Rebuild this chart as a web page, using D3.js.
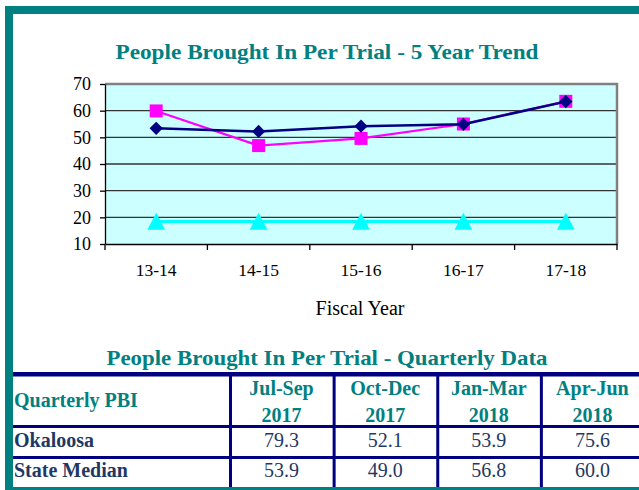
<!DOCTYPE html>
<html lang="en">
<head>
  <meta charset="UTF-8">
  <title>People Brought In Per Trial</title>
  <script src="https://d3js.org/d3.v7.min.js"></script>
  <style>
    body {
      margin: 0;
      background: #fff;
      font-family: "Liberation Serif", "Times New Roman", serif;
    }
    svg { display: block; }
  </style>
</head>
<body>
  <svg id="chart" width="639" height="490"></svg>

  <script>
    // trend chart data
    const years = ["13-14", "14-15", "15-16", "16-17", "17-18"];
    const okaloosaTrend = [53.4, 52.2, 54.2, 54.9, 63.4];
    const stateTrend = [59.9, 46.9, 49.6, 55.0, 63.5];
    const standardTrend = [18.4, 18.4, 18.4, 18.4, 18.4];
    const yTicks = [10, 20, 30, 40, 50, 60, 70];

    // quarterly table data
    const quarters = ["Jul-Sep", "Oct-Dec", "Jan-Mar", "Apr-Jun"];
    const quarterYears = ["2017", "2017", "2018", "2018"];
    const rowLabels = ["Okaloosa", "State Median"];
    const okaloosaQ = [79.3, 52.1, 53.9, 75.6];
    const stateQ = [53.9, 49.0, 56.8, 60.0];

    const teal = "#008080";
    const navy = "#000080";
    const ink = "#1F3864";
    const serif = "'Liberation Serif', 'Times New Roman', serif";

    const svg = d3.select("#chart");

    // teal frame
    svg.append("rect").attr("x", 5).attr("y", 6).attr("width", 634).attr("height", 8).attr("fill", teal);
    svg.append("rect").attr("x", 5).attr("y", 6).attr("width", 8).attr("height", 484).attr("fill", teal);
    svg.append("rect").attr("x", 5).attr("y", 487).attr("width", 634).attr("height", 3).attr("fill", teal);

    // chart title
    svg.append("text")
      .attr("x", 327).attr("y", 59)
      .attr("text-anchor", "middle")
      .attr("fill", teal)
      .style("font-size", "21px")
      .style("font-weight", "bold")
      .attr("textLength", 423)
      .attr("lengthAdjust", "spacingAndGlyphs")
      .text("People Brought In Per Trial - 5 Year Trend");

    const x = d3.scaleBand().domain(years).range([105, 617]);
    const y = d3.scaleLinear().domain([10, 70]).range([244, 84]);

    // plot background
    svg.append("rect")
      .attr("x", 105).attr("y", y(70))
      .attr("width", 512).attr("height", y(10) - y(70))
      .attr("fill", "#CCFFFF");

    // gridlines
    svg.append("g")
      .selectAll("line")
      .data(yTicks.filter(d => d > 10 && d < 70))
      .join("line")
      .attr("x1", 105).attr("x2", 617)
      .attr("y1", d => y(d)).attr("y2", d => y(d))
      .attr("stroke", "#333")
      .attr("stroke-width", 1.3);

    // grey border top and right
    svg.append("path")
      .attr("d", `M105,${y(70)}H617V${y(10)}`)
      .attr("fill", "none")
      .attr("stroke", "#808080")
      .attr("stroke-width", 2.5);

    // y axis
    const yAxis = svg.append("g")
      .attr("transform", "translate(105,0)")
      .attr("font-family", serif)
      .call(d3.axisLeft(y).tickValues(yTicks).tickSize(5).tickPadding(9).tickSizeOuter(0));
    yAxis.attr("font-family", serif).attr("font-size", 18);
    yAxis.select(".domain").attr("stroke", "#000").attr("stroke-width", 1.3);
    yAxis.selectAll(".tick line").attr("stroke", "#000").attr("stroke-width", 1.3);
    yAxis.selectAll("text").attr("fill", "#000");

    // x axis: ticks on band edges
    const xAxis = svg.append("g")
      .attr("transform", `translate(0,${y(10)})`)
      .call(d3.axisBottom(x).tickSize(0).tickPadding(20));
    xAxis.attr("font-family", serif).attr("font-size", 17.5);
    xAxis.select(".domain").attr("stroke", "#000").attr("stroke-width", 1.3);
    xAxis.selectAll("text").attr("fill", "#000");
    xAxis.selectAll(".edge")
      .data(years.map(d => x(d)).concat([x.range()[1]]))
      .join("line")
      .attr("class", "edge")
      .attr("x1", d => d).attr("x2", d => d)
      .attr("y1", 0).attr("y2", 6)
      .attr("stroke", "#000")
      .attr("stroke-width", 1.3);

    svg.append("text")
      .attr("x", 360).attr("y", 315)
      .attr("text-anchor", "middle")
      .attr("fill", "#000")
      .style("font-size", "20px")
      .text("Fiscal Year");

    const cx = d => x(d) + x.bandwidth() / 2;
    const line = d3.line().x(d => cx(d.year)).y(d => y(d.value));
    const pts = arr => years.map((yr, i) => ({ year: yr, value: arr[i] }));

    // cyan series (triangles)
    svg.append("path")
      .datum(pts(standardTrend))
      .attr("d", line)
      .attr("fill", "none")
      .attr("stroke", "#00FFFF")
      .attr("stroke-width", 3);
    svg.append("g").selectAll("path")
      .data(pts(standardTrend))
      .join("path")
      .attr("d", d3.symbol().type(d3.symbolTriangle).size(135))
      .attr("transform", d => `translate(${cx(d.year)},${y(d.value) + 2.5}) scale(1,1.12)`)
      .attr("fill", "#00FFFF");

    // magenta series (squares)
    svg.append("path")
      .datum(pts(stateTrend))
      .attr("d", line)
      .attr("fill", "none")
      .attr("stroke", "#FF00FF")
      .attr("stroke-width", 2.2);
    svg.append("g").selectAll("rect")
      .data(pts(stateTrend))
      .join("rect")
      .attr("x", d => cx(d.year) - 6.5)
      .attr("y", d => y(d.value) - 6.5)
      .attr("width", 13).attr("height", 13)
      .attr("fill", "#FF00FF");

    // navy series (diamonds)
    svg.append("path")
      .datum(pts(okaloosaTrend))
      .attr("d", line)
      .attr("fill", "none")
      .attr("stroke", navy)
      .attr("stroke-width", 2.5);
    svg.append("g").selectAll("path")
      .data(pts(okaloosaTrend))
      .join("path")
      .attr("d", d3.symbol().type(d3.symbolSquare).size(88))
      .attr("transform", d => `translate(${cx(d.year)},${y(d.value)}) rotate(45)`)
      .attr("fill", navy);

    // table title
    svg.append("text")
      .attr("x", 327).attr("y", 365)
      .attr("text-anchor", "middle")
      .attr("fill", teal)
      .style("font-size", "21px")
      .style("font-weight", "bold")
      .attr("textLength", 441)
      .attr("lengthAdjust", "spacingAndGlyphs")
      .text("People Brought In Per Trial - Quarterly Data");

    // table
    const colX = d3.scaleBand().domain(quarters).range([230.5, 645]);
    const tbl = svg.append("g");

    // horizontal rules
    tbl.append("rect").attr("x", 13).attr("y", 372).attr("width", 626).attr("height", 4.5).attr("fill", navy);
    tbl.append("rect").attr("x", 13).attr("y", 425).attr("width", 626).attr("height", 3).attr("fill", navy);
    tbl.append("rect").attr("x", 13).attr("y", 456).attr("width", 626).attr("height", 3).attr("fill", navy);

    // vertical rules
    tbl.selectAll(".vrule")
      .data(quarters)
      .join("rect")
      .attr("class", "vrule")
      .attr("x", d => colX(d) - 1.5)
      .attr("y", 372)
      .attr("width", 3)
      .attr("height", 115)
      .attr("fill", navy);

    tbl.append("text")
      .attr("x", 14).attr("y", 407)
      .attr("fill", teal)
      .style("font-size", "20px")
      .style("font-weight", "bold")
      .text("Quarterly PBI");

    const colMid = d => colX(d) + 51;

    tbl.selectAll(".qhead")
      .data(quarters)
      .join("text")
      .attr("class", "qhead")
      .attr("x", colMid).attr("y", 395)
      .attr("text-anchor", "middle")
      .attr("fill", teal)
      .style("font-size", "20px")
      .style("font-weight", "bold")
      .text(d => d);

    tbl.selectAll(".qyear")
      .data(quarters)
      .join("text")
      .attr("class", "qyear")
      .attr("x", colMid).attr("y", 421.5)
      .attr("text-anchor", "middle")
      .attr("fill", teal)
      .style("font-size", "20px")
      .style("font-weight", "bold")
      .text((d, i) => quarterYears[i]);

    const rows = [okaloosaQ, stateQ];
    const rowBase = [447, 477];

    rowLabels.forEach((label, r) => {
      tbl.append("text")
        .attr("x", 14).attr("y", rowBase[r])
        .attr("fill", ink)
        .style("font-size", "20px")
        .style("font-weight", "bold")
        .text(label);

      tbl.selectAll(".val" + r)
        .data(quarters)
        .join("text")
        .attr("class", "val" + r)
        .attr("x", colMid).attr("y", rowBase[r] - 0.5)
        .attr("text-anchor", "middle")
        .attr("fill", ink)
        .style("font-size", "20px")
        .text((d, i) => rows[r][i].toFixed(1));
    });
  </script>
</body>
</html>
